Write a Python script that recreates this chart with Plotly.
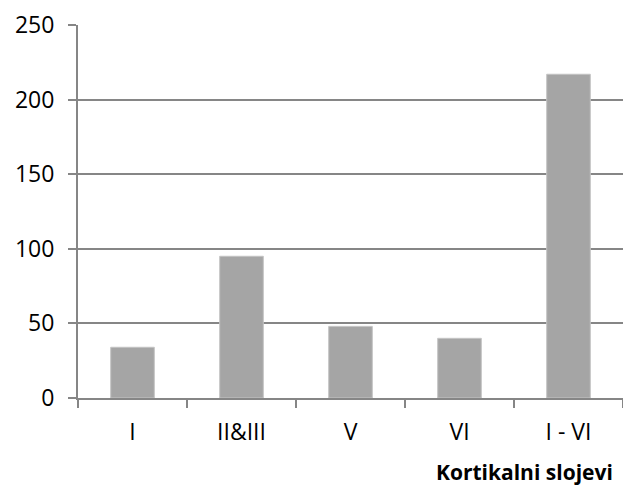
import plotly.graph_objects as go

# Cortical layers and their counts
categories = ["I", "II&III", "V", "VI", "I - VI"]
values = [34, 95, 48, 40, 217]

y_ticks = [0, 50, 100, 150, 200, 250]

axis_gray = "#868686"
bar_gray = "#A5A5A5"
font_family = "Open Sans, Noto Sans, sans-serif"

fig = go.Figure(
    go.Bar(
        x=categories,
        y=values,
        marker=dict(color=bar_gray, line=dict(color="#C4C4C4", width=1)),
        width=0.4,
    )
)

fig.update_layout(
    width=623,
    height=488,
    margin=dict(l=78, r=0, t=25, b=90),
    paper_bgcolor="white",
    plot_bgcolor="white",
    showlegend=False,
    font=dict(family=font_family, size=23, color="black"),
    xaxis=dict(
        type="category",
        showline=True,
        linecolor=axis_gray,
        linewidth=2,
        ticks="outside",
        tickson="boundaries",
        ticklen=8,
        tickwidth=2,
        tickcolor=axis_gray,
        showgrid=False,
        tickfont=dict(size=23),
        ticklabelstandoff=12,
        fixedrange=True,
    ),
    yaxis=dict(
        range=[0, 250],
        tickvals=y_ticks,
        showline=True,
        linecolor=axis_gray,
        linewidth=2,
        ticks="outside",
        ticklen=8,
        tickwidth=2,
        tickcolor=axis_gray,
        showgrid=True,
        gridcolor=axis_gray,
        gridwidth=1.5,
        zeroline=False,
        tickfont=dict(size=23),
        ticklabelstandoff=9,
        fixedrange=True,
    ),
    annotations=[
        dict(
            text="<b>Kortikalni slojevi</b>",
            xref="paper",
            yref="paper",
            x=0.986,
            y=-0.198,
            xanchor="right",
            yanchor="middle",
            showarrow=False,
            font=dict(size=21, family=font_family),
        )
    ],
)

fig.write_html("out.html")
